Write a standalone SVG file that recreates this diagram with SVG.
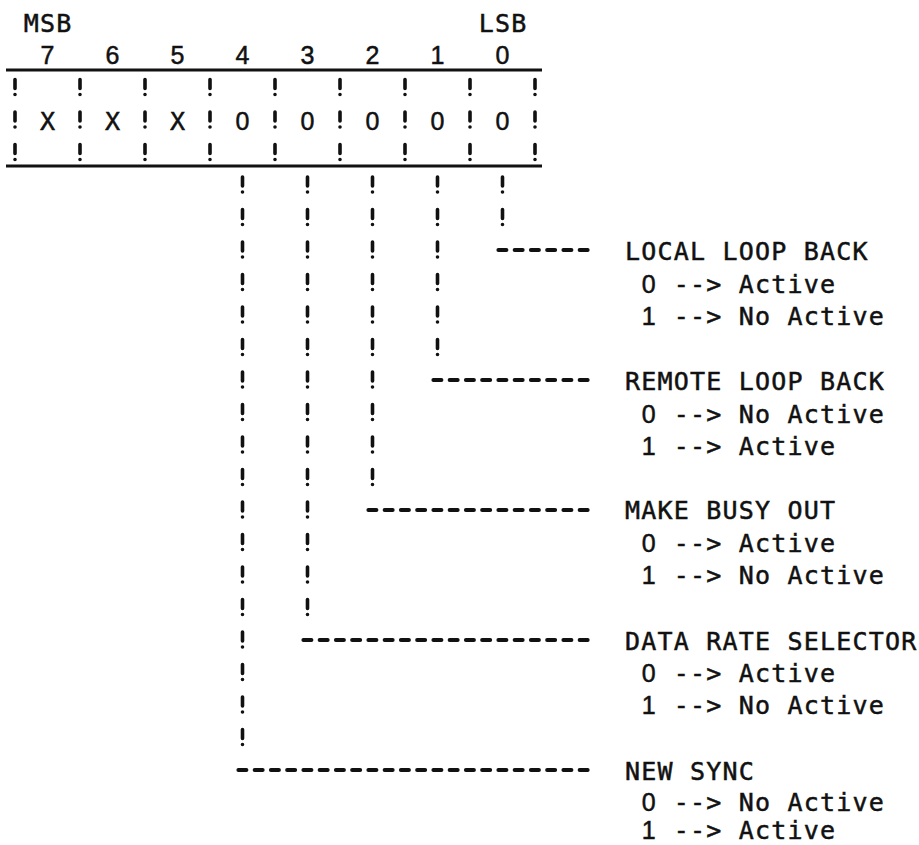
<svg xmlns="http://www.w3.org/2000/svg" width="919" height="845" viewBox="0 0 919 845">
<style>
text{font-family:"DejaVu Sans Mono","Liberation Mono",monospace;font-size:25px;letter-spacing:1.2px;fill:#111;stroke:#111;stroke-width:0.5px;}
text.dg{font-family:"Liberation Sans","DejaVu Sans",sans-serif;letter-spacing:0;text-anchor:middle;}
.rule{stroke:#111;stroke-width:3;fill:none;}
.bang{stroke:#111;stroke-width:3.6;fill:none;stroke-linecap:round;stroke-dasharray:9 6 0.01 17.49;}
.dash{stroke:#111;stroke-width:4;fill:none;stroke-linecap:round;stroke-dasharray:8 8.25;}
</style>
<rect width="919" height="845" fill="#fff"/>
<g id="register">
  <text x="23.75" y="32">MSB</text>
  <text x="478.75" y="32">LSB</text>
  <text class="dg" x="47.5" y="64">7</text>
  <text class="dg" x="112.5" y="64">6</text>
  <text class="dg" x="177.5" y="64">5</text>
  <text class="dg" x="242.5" y="64">4</text>
  <text class="dg" x="307.5" y="64">3</text>
  <text class="dg" x="372.5" y="64">2</text>
  <text class="dg" x="437.5" y="64">1</text>
  <text class="dg" x="502.5" y="64">0</text>
  <line class="rule" x1="6" y1="70" x2="542" y2="70"/>
  <line class="rule" x1="6" y1="166" x2="542" y2="166"/>
  <path class="bang" d="M15 79.5V161M80 79.5V161M145 79.5V161M210 79.5V161M275 79.5V161M340 79.5V161M405 79.5V161M470 79.5V161M535 79.5V161"/>
  <text x="40" y="130">X</text>
  <text x="105" y="130">X</text>
  <text x="170" y="130">X</text>
  <text class="dg" x="242.5" y="130">0</text>
  <text class="dg" x="307.5" y="130">0</text>
  <text class="dg" x="372.5" y="130">0</text>
  <text class="dg" x="437.5" y="130">0</text>
  <text class="dg" x="502.5" y="130">0</text>
</g>
<g id="connectors">
  <path class="bang" d="M502.5 177V225"/>
  <path class="bang" d="M437.5 177V355"/>
  <path class="bang" d="M372.5 177V485"/>
  <path class="bang" d="M307.5 177V615"/>
  <path class="bang" d="M242.5 177V745"/>
  <path class="dash" d="M498.4 250H588"/>
  <path class="dash" d="M433.4 380H588"/>
  <path class="dash" d="M368.4 510H588"/>
  <path class="dash" d="M303.4 640H588"/>
  <path class="dash" d="M238.4 770H588"/>
</g>
<g id="bit0-local-loop-back">
  <text x="625" y="260">LOCAL LOOP BACK</text>
  <text class="dg" x="648.75" y="292.5">0</text><text x="673.75" y="292.5">--&gt; Active</text>
  <text class="dg" x="648.75" y="325">1</text><text x="673.75" y="325">--&gt; No Active</text>
</g>
<g id="bit1-remote-loop-back">
  <text x="625" y="390">REMOTE LOOP BACK</text>
  <text class="dg" x="648.75" y="422.5">0</text><text x="673.75" y="422.5">--&gt; No Active</text>
  <text class="dg" x="648.75" y="455">1</text><text x="673.75" y="455">--&gt; Active</text>
</g>
<g id="bit2-make-busy-out">
  <text x="625" y="519">MAKE BUSY OUT</text>
  <text class="dg" x="648.75" y="551.5">0</text><text x="673.75" y="551.5">--&gt; Active</text>
  <text class="dg" x="648.75" y="584">1</text><text x="673.75" y="584">--&gt; No Active</text>
</g>
<g id="bit3-data-rate-selector">
  <text x="625" y="650">DATA RATE SELECTOR</text>
  <text class="dg" x="648.75" y="682">0</text><text x="673.75" y="682">--&gt; Active</text>
  <text class="dg" x="648.75" y="714">1</text><text x="673.75" y="714">--&gt; No Active</text>
</g>
<g id="bit4-new-sync">
  <text x="625" y="780">NEW SYNC</text>
  <text class="dg" x="648.75" y="811">0</text><text x="673.75" y="811">--&gt; No Active</text>
  <text class="dg" x="648.75" y="839">1</text><text x="673.75" y="839">--&gt; Active</text>
</g>
</svg>
